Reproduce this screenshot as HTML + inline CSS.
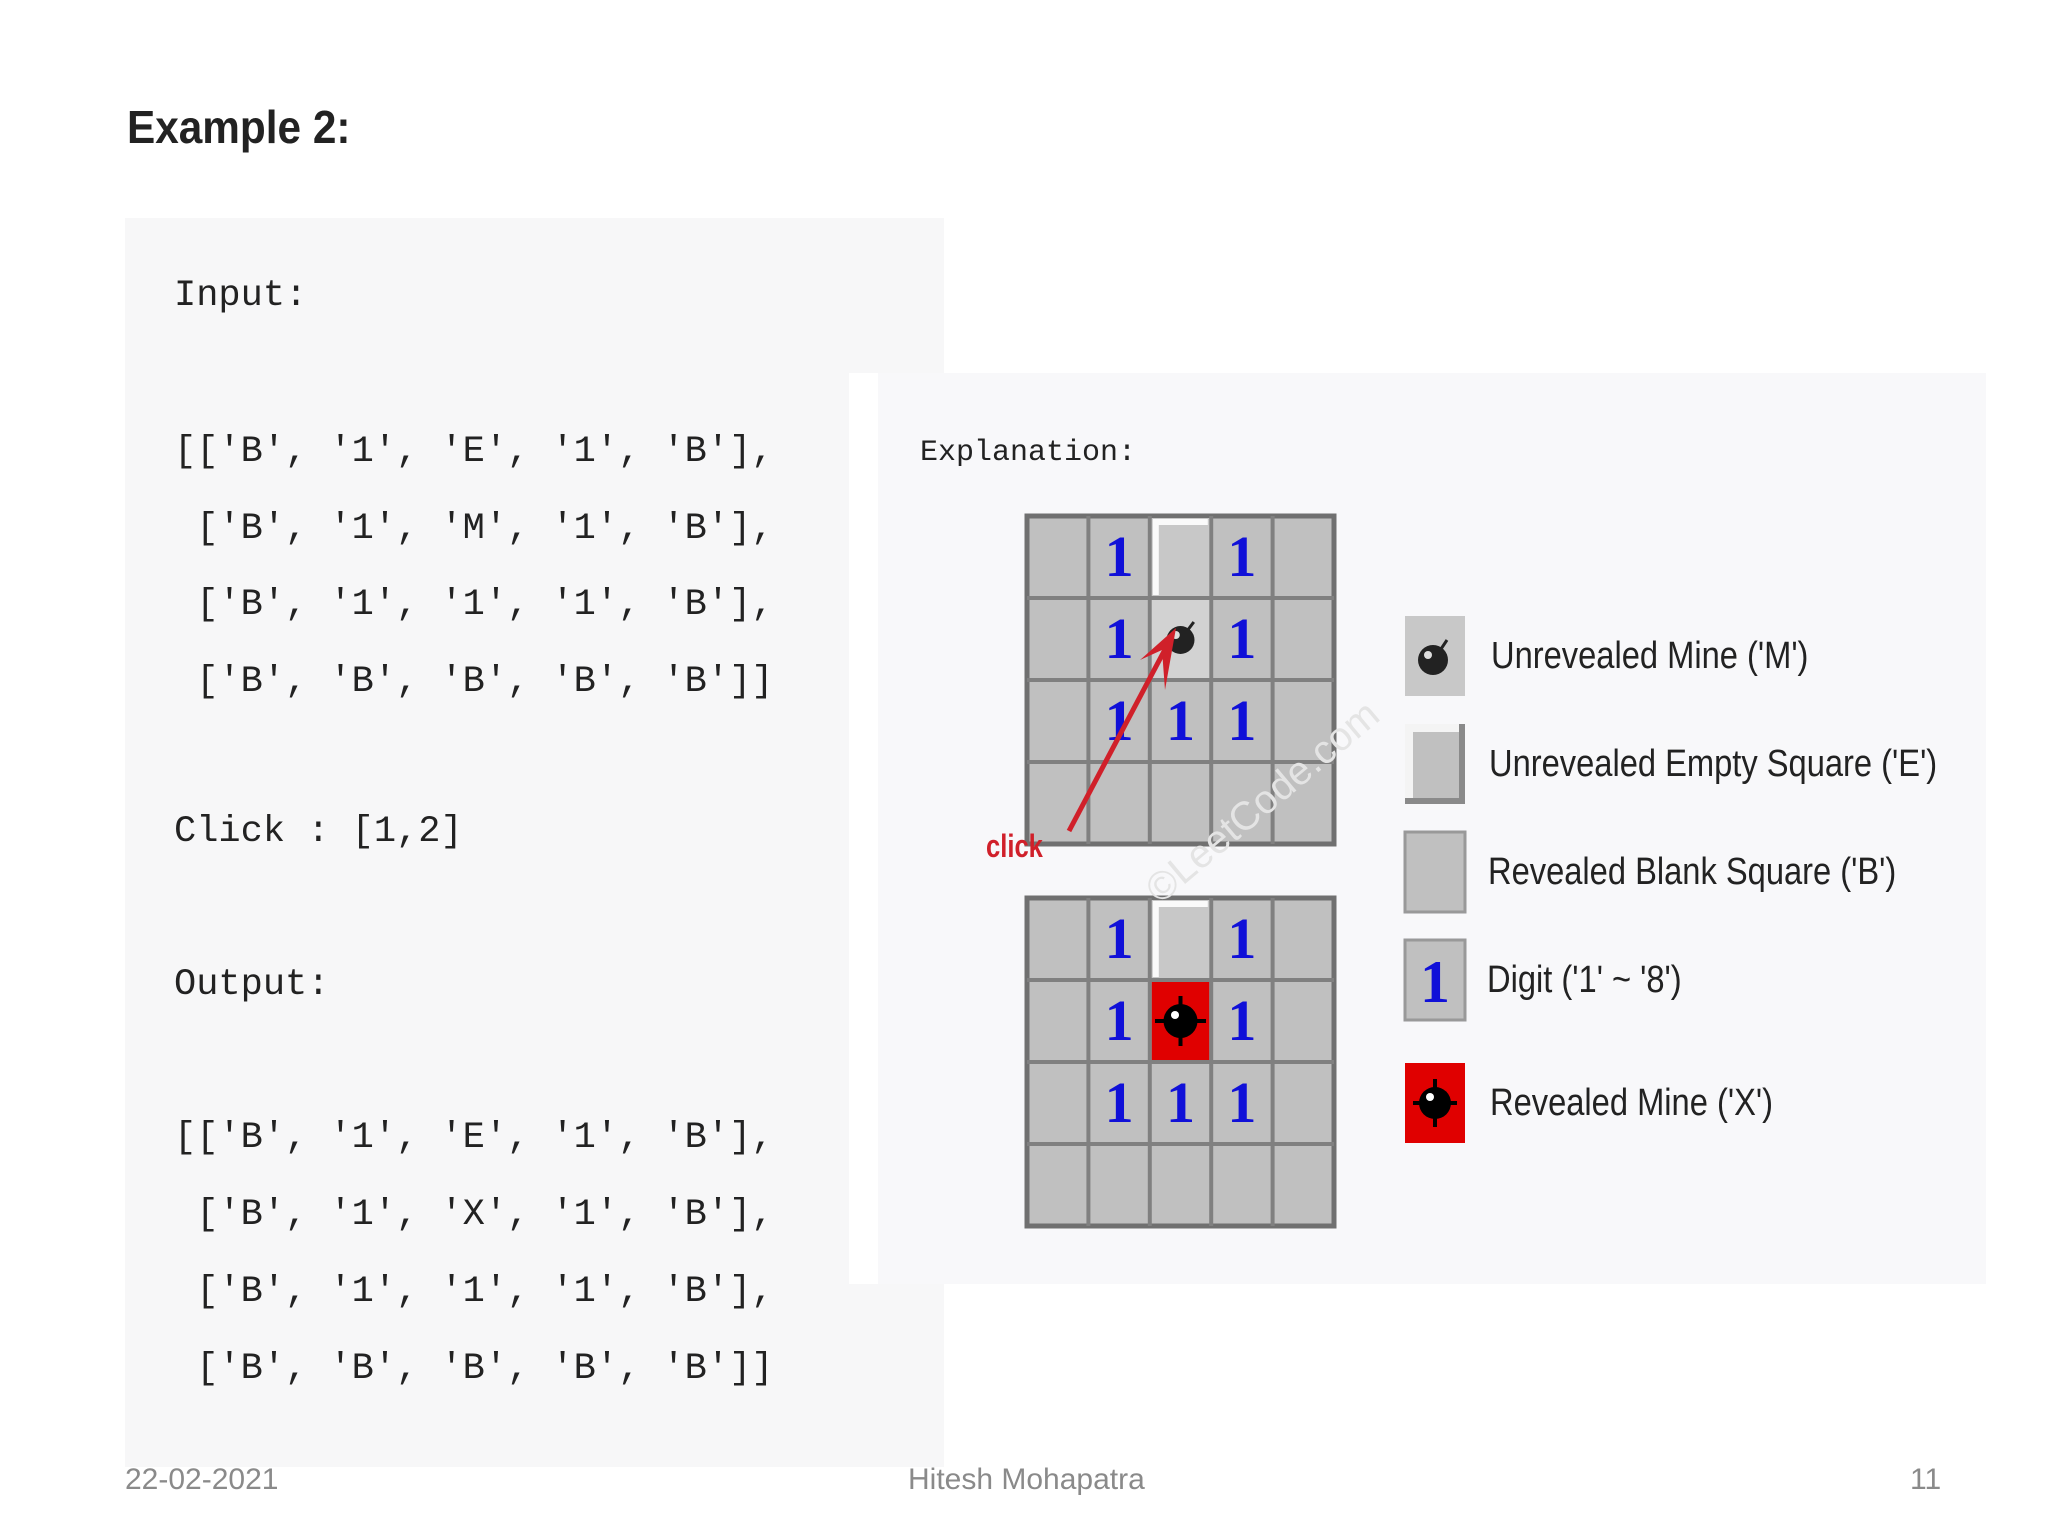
<!DOCTYPE html>
<html><head><meta charset="utf-8"><style>
html,body{margin:0;padding:0;background:#fff;}
body{width:2048px;height:1536px;position:relative;overflow:hidden;font-family:"Liberation Sans",sans-serif;}
.abs{position:absolute;white-space:pre;}
.mono{font-family:"Liberation Mono","DejaVu Sans Mono",monospace;color:#222;}
</style></head><body>
<div class="abs" style="left:127px;top:100px;font-size:46px;font-weight:bold;color:#222;transform:scaleX(0.92);transform-origin:left top;">Example 2:</div>
<div class="abs" style="left:125px;top:218px;width:819px;height:1249px;background:#f7f7f8;"></div>
<div class="abs" style="left:849px;top:373px;width:1137px;height:911px;background:#f8f8fa;"></div>
<div class="abs" style="left:849px;top:373px;width:29px;height:911px;background:#fff;"></div>

<div class="abs mono" style="left:174px;top:274px;font-size:37px;line-height:44px;">Input:</div>
<div class="abs mono" style="left:174px;top:414px;font-size:37px;line-height:76.5px;">[['B', '1', 'E', '1', 'B'],
 ['B', '1', 'M', '1', 'B'],
 ['B', '1', '1', '1', 'B'],
 ['B', 'B', 'B', 'B', 'B']]</div>
<div class="abs mono" style="left:174px;top:810px;font-size:37px;line-height:44px;">Click : [1,2]</div>
<div class="abs mono" style="left:174px;top:963px;font-size:37px;line-height:44px;">Output:</div>
<div class="abs mono" style="left:174px;top:1100px;font-size:37px;line-height:77px;">[['B', '1', 'E', '1', 'B'],
 ['B', '1', 'X', '1', 'B'],
 ['B', '1', '1', '1', 'B'],
 ['B', 'B', 'B', 'B', 'B']]</div>
<div class="abs mono" style="left:920px;top:435px;font-size:30px;line-height:36px;">Explanation:</div>

<svg class="abs" style="left:0;top:0" width="2048" height="1536" viewBox="0 0 2048 1536">
<defs>
<g id="one"><text x="30.7" y="60" font-family="Liberation Serif,serif" font-weight="bold" font-size="58" fill="#1010d8" text-anchor="middle">1</text></g>
<g id="e"><rect x="2" y="2" width="57.4" height="78" fill="#c8c8c8"/><path d="M3 3 H58 V9 H9 V79 H3 Z" fill="#fafafa"/></g>
<g id="bomb"><circle cx="30.7" cy="42" r="14" fill="#222"/><circle cx="26" cy="37" r="4" fill="#ddd"/><line x1="38" y1="32" x2="44" y2="24" stroke="#222" stroke-width="3"/></g>
</defs>
<g transform="translate(1027,516)">
<rect width="307" height="328" fill="#c0c0c0" stroke="#707070" stroke-width="5"/>
<g stroke="#808080" stroke-width="4">
<line x1="61.4" y1="0" x2="61.4" y2="328"/><line x1="122.8" y1="0" x2="122.8" y2="328"/><line x1="184.2" y1="0" x2="184.2" y2="328"/><line x1="245.6" y1="0" x2="245.6" y2="328"/>
<line x1="0" y1="82" x2="307" y2="82"/><line x1="0" y1="164" x2="307" y2="164"/><line x1="0" y1="246" x2="307" y2="246"/>
</g>
<use href="#e" x="122.8" y="0"/>
<rect x="124.8" y="84" width="57.4" height="78" fill="#d2d2d2"/>
<use href="#bomb" x="122.8" y="82"/>
<use href="#one" x="61.4" y="0"/><use href="#one" x="184.2" y="0"/>
<use href="#one" x="61.4" y="82"/><use href="#one" x="184.2" y="82"/>
<use href="#one" x="61.4" y="164"/><use href="#one" x="122.8" y="164"/><use href="#one" x="184.2" y="164"/>
</g>
<g transform="translate(1027,898)">
<rect width="307" height="328" fill="#c0c0c0" stroke="#707070" stroke-width="5"/>
<g stroke="#808080" stroke-width="4">
<line x1="61.4" y1="0" x2="61.4" y2="328"/><line x1="122.8" y1="0" x2="122.8" y2="328"/><line x1="184.2" y1="0" x2="184.2" y2="328"/><line x1="245.6" y1="0" x2="245.6" y2="328"/>
<line x1="0" y1="82" x2="307" y2="82"/><line x1="0" y1="164" x2="307" y2="164"/><line x1="0" y1="246" x2="307" y2="246"/>
</g>
<use href="#e" x="122.8" y="0"/>
<rect x="124.8" y="84" width="57.4" height="78" fill="#e00000"/>
<circle cx="153.5" cy="123" r="17" fill="#000"/><path d="M153.5 98 V148 M128 123 H179" stroke="#000" stroke-width="4"/>
<circle cx="148" cy="117" r="4" fill="#fff"/>
<use href="#one" x="61.4" y="0"/><use href="#one" x="184.2" y="0"/>
<use href="#one" x="61.4" y="82"/><use href="#one" x="184.2" y="82"/>
<use href="#one" x="61.4" y="164"/><use href="#one" x="122.8" y="164"/><use href="#one" x="184.2" y="164"/>
</g>
<line x1="1069" y1="831" x2="1170" y2="640" stroke="#d0202a" stroke-width="5"/>
<path d="M1176 628 L1140 660 L1162 650 L1165 690 Z" fill="#d0202a"/>
<text x="986" y="857" font-family="Liberation Sans,sans-serif" font-weight="bold" font-size="32" fill="#d0202a" transform="translate(986,857) scale(0.8,1) translate(-986,-857)">click</text>
<text x="1160" y="905" font-family="Liberation Sans,sans-serif" font-size="40" fill="#e4e4e4" transform="rotate(-40 1160 905)">©LeetCode.com</text>
<g transform="translate(1405,616)"><rect width="60" height="80" fill="#c8c8c8"/><circle cx="28" cy="44" r="15" fill="#222"/><circle cx="23" cy="39" r="4" fill="#ddd"/><line x1="36" y1="33" x2="42" y2="24" stroke="#222" stroke-width="3"/></g>
<g transform="translate(1405,724)"><rect width="60" height="80" fill="#c0c0c0"/><path d="M0 0 H60 V8 H8 V80 H0 Z" fill="#f4f4f4"/><path d="M60 0 V80 H0 V74 H54 V0Z" fill="#8a8a8a"/></g>
<g transform="translate(1405,832)"><rect width="60" height="80" fill="#c0c0c0" stroke="#999" stroke-width="3"/></g>
<g transform="translate(1405,940)"><rect width="60" height="80" fill="#c0c0c0" stroke="#999" stroke-width="3"/><text x="30" y="62" font-family="Liberation Serif,serif" font-weight="bold" font-size="60" fill="#1010d8" text-anchor="middle">1</text></g>
<g transform="translate(1405,1063)"><rect width="60" height="80" fill="#e00000"/><circle cx="30" cy="40" r="16" fill="#000"/><path d="M30 16 V64 M8 40 H52" stroke="#000" stroke-width="4"/><circle cx="25" cy="34" r="4" fill="#fff"/></g>
<g font-family="Liberation Sans,sans-serif" font-size="38" fill="#222">
<text transform="translate(1491,668) scale(0.86,1)">Unrevealed Mine ('M')</text>
<text transform="translate(1489,776) scale(0.86,1)">Unrevealed Empty Square ('E')</text>
<text transform="translate(1488,884) scale(0.86,1)">Revealed Blank Square ('B')</text>
<text transform="translate(1487,992) scale(0.86,1)">Digit ('1' ~ '8')</text>
<text transform="translate(1490,1115) scale(0.86,1)">Revealed Mine ('X')</text>
</g>
</svg>

<div class="abs" style="left:125px;top:1463px;font-size:30px;color:#8a8a8a;">22-02-2021</div>
<div class="abs" style="left:908px;top:1463px;font-size:30px;color:#8a8a8a;">Hitesh Mohapatra</div>
<div class="abs" style="left:1910px;top:1463px;font-size:30px;color:#8a8a8a;">11</div>
</body></html>
